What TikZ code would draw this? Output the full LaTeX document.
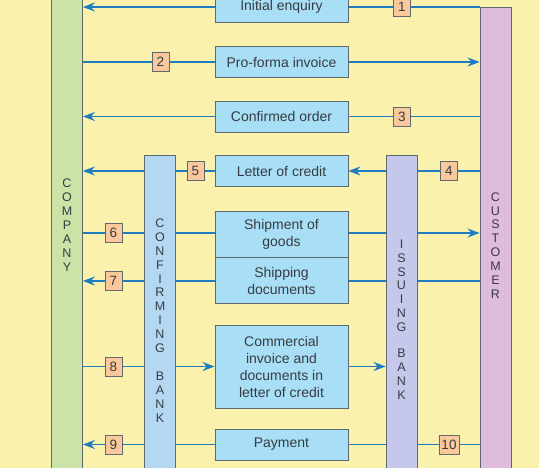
\documentclass[tikz,border=0pt]{standalone}
\usepackage{fontspec}
\setmainfont{Liberation Sans}
\usetikzlibrary{arrows.meta,positioning,backgrounds}
\definecolor{bgyellow}{RGB}{250,242,172}
\definecolor{compgreen}{RGB}{204,227,168}
\definecolor{custpink}{RGB}{224,188,220}
\definecolor{confblue}{RGB}{180,216,242}
\definecolor{issuelilac}{RGB}{197,200,234}
\definecolor{msgblue}{RGB}{168,222,246}
\definecolor{numorange}{RGB}{249,200,156}
\definecolor{flowblue}{RGB}{30,125,192}
\definecolor{edgegrey}{RGB}{95,105,110}
\definecolor{textgrey}{RGB}{55,60,65}

\begin{document}
\begin{tikzpicture}[
    x=1pt, y=-1pt,
    bar/.style={draw=edgegrey, line width=0.8pt, minimum width=31pt, inner sep=0pt, align=center, text=textgrey, font=\fontsize{12.5}{13.9}\selectfont},
    msg/.style={draw=edgegrey, line width=0.8pt, fill=msgblue, minimum width=133pt, minimum height=31pt, inner sep=2pt, align=center, text=textgrey, font=\fontsize{14}{17}\selectfont},
    num/.style={draw=edgegrey, line width=0.8pt, fill=numorange, minimum width=17pt, minimum height=19pt, inner sep=0pt, text=textgrey, font=\fontsize{13.5}{15}\selectfont},
    flow/.style={draw=flowblue, line width=1.7pt, -{Stealth[length=12pt,width=9pt,inset=4pt]}}
]
    \useasboundingbox (0,0) rectangle (539,468);

    % Parties
    \node[bar, fill=compgreen, minimum height=500pt] (company) at (67,225) {C\\O\\M\\P\\A\\N\\Y};
    \node[bar, fill=custpink, minimum height=476pt, anchor=north] (customer) at (495.5,7) {C\\U\\S\\T\\O\\M\\E\\R};
    \node[bar, fill=confblue, minimum height=330pt, anchor=north] (confirming) at (160,155) {C\\O\\N\\F\\I\\R\\M\\I\\N\\G\\[13.9pt]B\\A\\N\\K};
    \node[bar, fill=issuelilac, minimum height=328pt, anchor=north] (issuing) at (401.5,155) {I\\S\\S\\U\\I\\N\\G\\[12pt]B\\A\\N\\K};

    % Documents
    \node[msg] (enquiry) at (281.5,7) {Initial enquiry};
    \node[msg] (proforma) at (281.5,62) {Pro-forma invoice};
    \node[msg] (confirmed) at (281.5,116.5) {Confirmed order};
    \node[msg] (letter) at (281.5,171) {Letter of credit};
    \node[msg, minimum height=46pt] (shipment) at (281.5,234) {Shipment of\\goods};
    \node[msg, minimum height=46pt, below=0pt of shipment] (docs) {Shipping\\documents};
    \node[msg, minimum height=83pt] (commercial) at (281.5,366.5) {Commercial\\invoice and\\documents in\\letter of credit};
    \node[msg] (payment) at (281.5,444.5) {Payment};

    % Steps
    \node[num] (n1) at (402,7) {1};
    \node[num] (n2) at (160.5,62) {2};
    \node[num] (n3) at (402,116.5) {3};
    \node[num] (n4) at (449,171) {4};
    \node[num] (n5) at (195.5,171) {5};
    \node[num] (n6) at (113.5,233) {6};
    \node[num] (n7) at (113.5,281) {7};
    \node[num] (n8) at (113.5,366.5) {8};
    \node[num] (n9) at (113.5,444.5) {9};
    \node[num, minimum width=20pt] (n10) at (449,444.5) {10};

    % Flows
    \begin{scope}[on background layer]
        \fill[bgyellow] (0,0) rectangle (539,468);
        \draw[flow] (customer.west |- enquiry) -- (company.east |- enquiry);
        \draw[flow] (company.east |- proforma) -- (customer.west |- proforma);
        \draw[flow] (customer.west |- confirmed) -- (company.east |- confirmed);
        \draw[flow] (customer.west |- letter) -- (letter.east);
        \draw[flow] (letter.west) -- (company.east |- letter);
        \draw[flow] (company.east |- n6) -- (customer.west |- n6);
        \draw[flow] (customer.west |- n7) -- (company.east |- n7);
        \draw[flow] (company.east |- commercial) -- (commercial.west);
        \draw[flow] (commercial.east) -- (issuing.west |- commercial);
        \draw[flow] (customer.west |- payment) -- (company.east |- payment);
    \end{scope}
\end{tikzpicture}
\end{document}
